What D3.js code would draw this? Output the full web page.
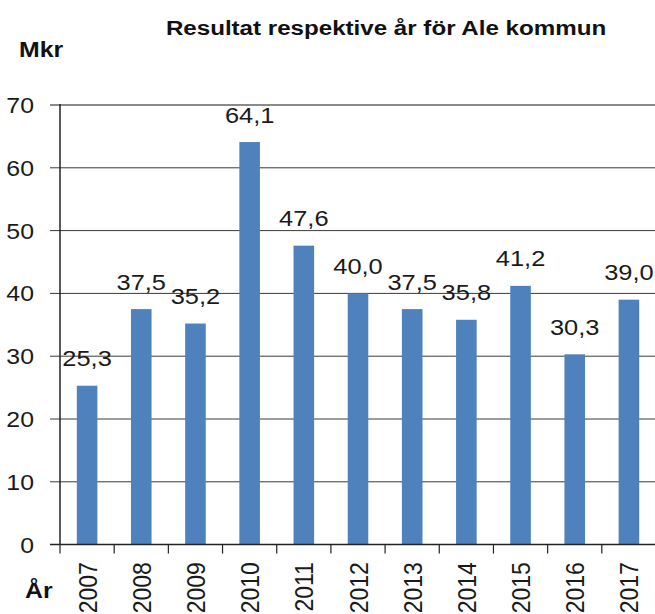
<!DOCTYPE html>
<html>
<head>
<meta charset="utf-8">
<script src="https://d3js.org/d3.v7.min.js"></script>
<style>
body { margin: 0; background: #fff; }
svg { display: block; font-family: "Liberation Sans", Arial, sans-serif; }
</style>
</head>
<body>
<script>
// data
var years = ["2007", "2008", "2009", "2010", "2011", "2012", "2013", "2014", "2015", "2016", "2017"];
var values = [25.3, 37.5, 35.2, 64.1, 47.6, 40.0, 37.5, 35.8, 41.2, 30.3, 39.0];
var yTicks = [0, 10, 20, 30, 40, 50, 60, 70];

var width = 655,
    height = 614;

// the reference text is a bit wide, so stretch it sideways
var sx = 1.13;

var svg = d3.select("body").append("svg")
    .attr("width", width)
    .attr("height", height);

var plotLeft = 60, plotRight = 656, plotTop = 105, plotBottom = 544.6;

var x = d3.scaleBand()
    .domain(years)
    .range([plotLeft, plotRight])
    .paddingInner(0.62)
    .paddingOuter(0.31);

// band for ticks (no padding)
var xb = d3.scaleBand()
    .domain(years)
    .range([plotLeft, plotRight]);

var y = d3.scaleLinear()
    .domain([0, 70])
    .range([plotBottom, plotTop]);

var fmt = function(v) { return d3.format(".1f")(v).replace(".", ","); };

// gridlines
svg.append("g")
    .selectAll("line")
    .data(yTicks.filter(function(d) { return d > 0; }))
    .enter().append("line")
    .attr("x1", plotLeft - 10)
    .attr("x2", width)
    .attr("y1", function(d) { return y(d); })
    .attr("y2", function(d) { return y(d); })
    .attr("stroke", function(d) { return d == 70 ? "#8a8a8a" : "#3a3a3a"; })
    .attr("stroke-width", function(d) { return d == 70 ? 2.2 : 1; });

// bars
svg.append("g")
    .selectAll("rect")
    .data(values)
    .enter().append("rect")
    .attr("x", function(d, i) { return x(years[i]); })
    .attr("width", x.bandwidth())
    .attr("y", function(d) { return y(d); })
    .attr("height", function(d) { return y(0) - y(d); })
    .attr("fill", "#4F81BD");

// value labels
svg.append("g")
    .selectAll("text")
    .data(values)
    .enter().append("text")
    .attr("transform", function(d, i) {
        return "translate(" + (xb(years[i]) + xb.bandwidth() / 2) + "," + (y(d) - 19.5) + ") scale(" + sx + ",1)";
    })
    .attr("text-anchor", "middle")
    .attr("font-size", "22.5px")
    .attr("fill", "#1a1a1a")
    .text(fmt);

// y axis line
svg.append("line")
    .attr("x1", plotLeft).attr("x2", plotLeft)
    .attr("y1", plotTop - 1).attr("y2", plotBottom)
    .attr("stroke", "#222").attr("stroke-width", 1.5);

// x axis line
svg.append("line")
    .attr("x1", plotLeft - 10).attr("x2", width)
    .attr("y1", plotBottom).attr("y2", plotBottom)
    .attr("stroke", "#222").attr("stroke-width", 1.5);

// x tick marks
svg.append("g")
    .selectAll("line")
    .data(years)
    .enter().append("line")
    .attr("x1", function(d) { return xb(d); })
    .attr("x2", function(d) { return xb(d); })
    .attr("y1", plotBottom)
    .attr("y2", plotBottom + 9)
    .attr("stroke", "#222")
    .attr("stroke-width", 1.2);

// y tick labels
svg.append("g")
    .selectAll("text")
    .data(yTicks)
    .enter().append("text")
    .attr("transform", function(d) {
        return "translate(34," + (y(d) + 8) + ") scale(" + sx + ",1)";
    })
    .attr("text-anchor", "end")
    .attr("font-size", "22px")
    .attr("fill", "#1a1a1a")
    .text(function(d) { return d; });

// x tick labels
svg.append("g")
    .selectAll("text")
    .data(years)
    .enter().append("text")
    .attr("transform", function(d) {
        return "translate(" + (xb(d) + xb.bandwidth() / 2 + 9.5) + "," + (plotBottom + 17.5) + ") scale(" + sx + ",1) rotate(-90)";
    })
    .attr("text-anchor", "end")
    .attr("font-size", "23px")
    .attr("fill", "#1a1a1a")
    .text(function(d) { return d; });

// title
svg.append("text")
    .attr("transform", "translate(386,35) scale(1.15,1)")
    .attr("text-anchor", "middle")
    .attr("font-size", "21px")
    .attr("font-weight", "bold")
    .attr("fill", "#111")
    .text("Resultat respektive år för Ale kommun");

svg.append("text")
    .attr("transform", "translate(19,57) scale(" + sx + ",1)")
    .attr("font-size", "22px")
    .attr("font-weight", "bold")
    .attr("fill", "#111")
    .text("Mkr");

svg.append("text")
    .attr("transform", "translate(25,598) scale(" + sx + ",1)")
    .attr("font-size", "22px")
    .attr("font-weight", "bold")
    .attr("fill", "#111")
    .text("År");
</script>
</body>
</html>
